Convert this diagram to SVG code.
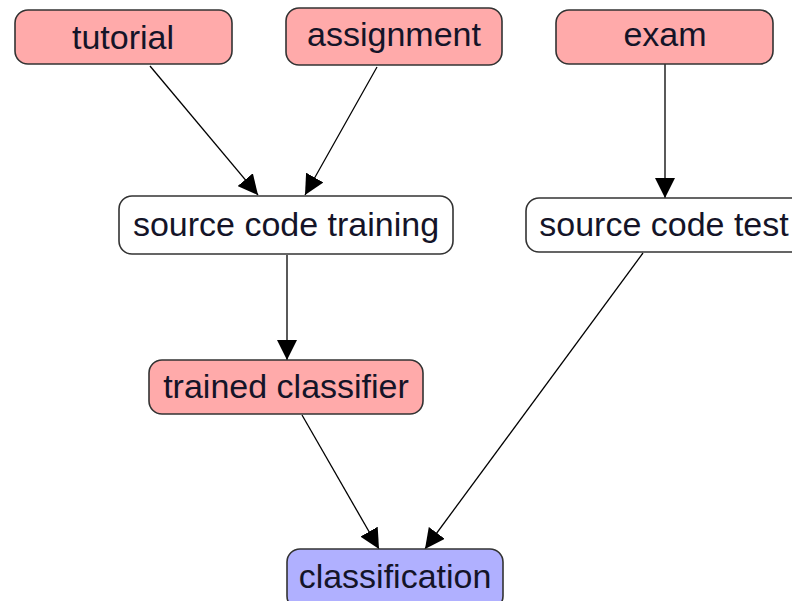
<svg xmlns="http://www.w3.org/2000/svg" width="792" height="601" viewBox="0 0 792 601">
  <defs>
    <marker id="arrow" viewBox="0 0 10 10" refX="10" refY="5" markerWidth="20" markerHeight="20" markerUnits="userSpaceOnUse" orient="auto">
      <path d="M0,0 L10,5 L0,10 z" fill="#000"/>
    </marker>
    <style>
      .node rect { stroke: #333; stroke-width: 1.6; }
      .pink rect { fill: #ffaaaa; }
      .white rect { fill: #ffffff; }
      .blue rect { fill: #b0b0ff; }
      .node text { font-family: "Liberation Sans", Arial, sans-serif; font-size: 34px; fill: #141428; text-anchor: middle; }
      .edges line { stroke: #000; stroke-width: 1.3; marker-end: url(#arrow); }
    </style>
  </defs>
  <rect width="792" height="601" fill="#ffffff"/>

  <g class="edges" id="edges">
    <line x1="150" y1="66" x2="258" y2="195"/>
    <line x1="377" y1="67" x2="305" y2="195"/>
    <line x1="665" y1="64" x2="665" y2="198"/>
    <line x1="287" y1="255" x2="287" y2="360"/>
    <line x1="643" y1="253" x2="425" y2="549"/>
    <line x1="302" y1="415" x2="379" y2="549"/>
  </g>

  <g id="tutorial" class="node pink">
    <rect x="15" y="10" width="217" height="54" rx="13"/>
    <text x="123" y="49">tutorial</text>
  </g>
  <g id="assignment" class="node pink">
    <rect x="286" y="8" width="216" height="57" rx="13"/>
    <text x="394" y="46">assignment</text>
  </g>
  <g id="exam" class="node pink">
    <rect x="556" y="10" width="217" height="54" rx="13"/>
    <text x="665" y="46">exam</text>
  </g>
  <g id="source-code-training" class="node white">
    <rect x="119" y="196" width="334" height="58" rx="13"/>
    <text x="286" y="236">source code training</text>
  </g>
  <g id="source-code-test" class="node white">
    <rect x="526" y="198" width="300" height="54" rx="13"/>
    <text x="664" y="236">source code test</text>
  </g>
  <g id="trained-classifier" class="node pink">
    <rect x="149" y="360" width="274" height="54" rx="13"/>
    <text x="286" y="398">trained classifier</text>
  </g>
  <g id="classification" class="node blue">
    <rect x="287" y="549" width="216" height="60" rx="13"/>
    <text x="395" y="588">classification</text>
  </g>
</svg>
